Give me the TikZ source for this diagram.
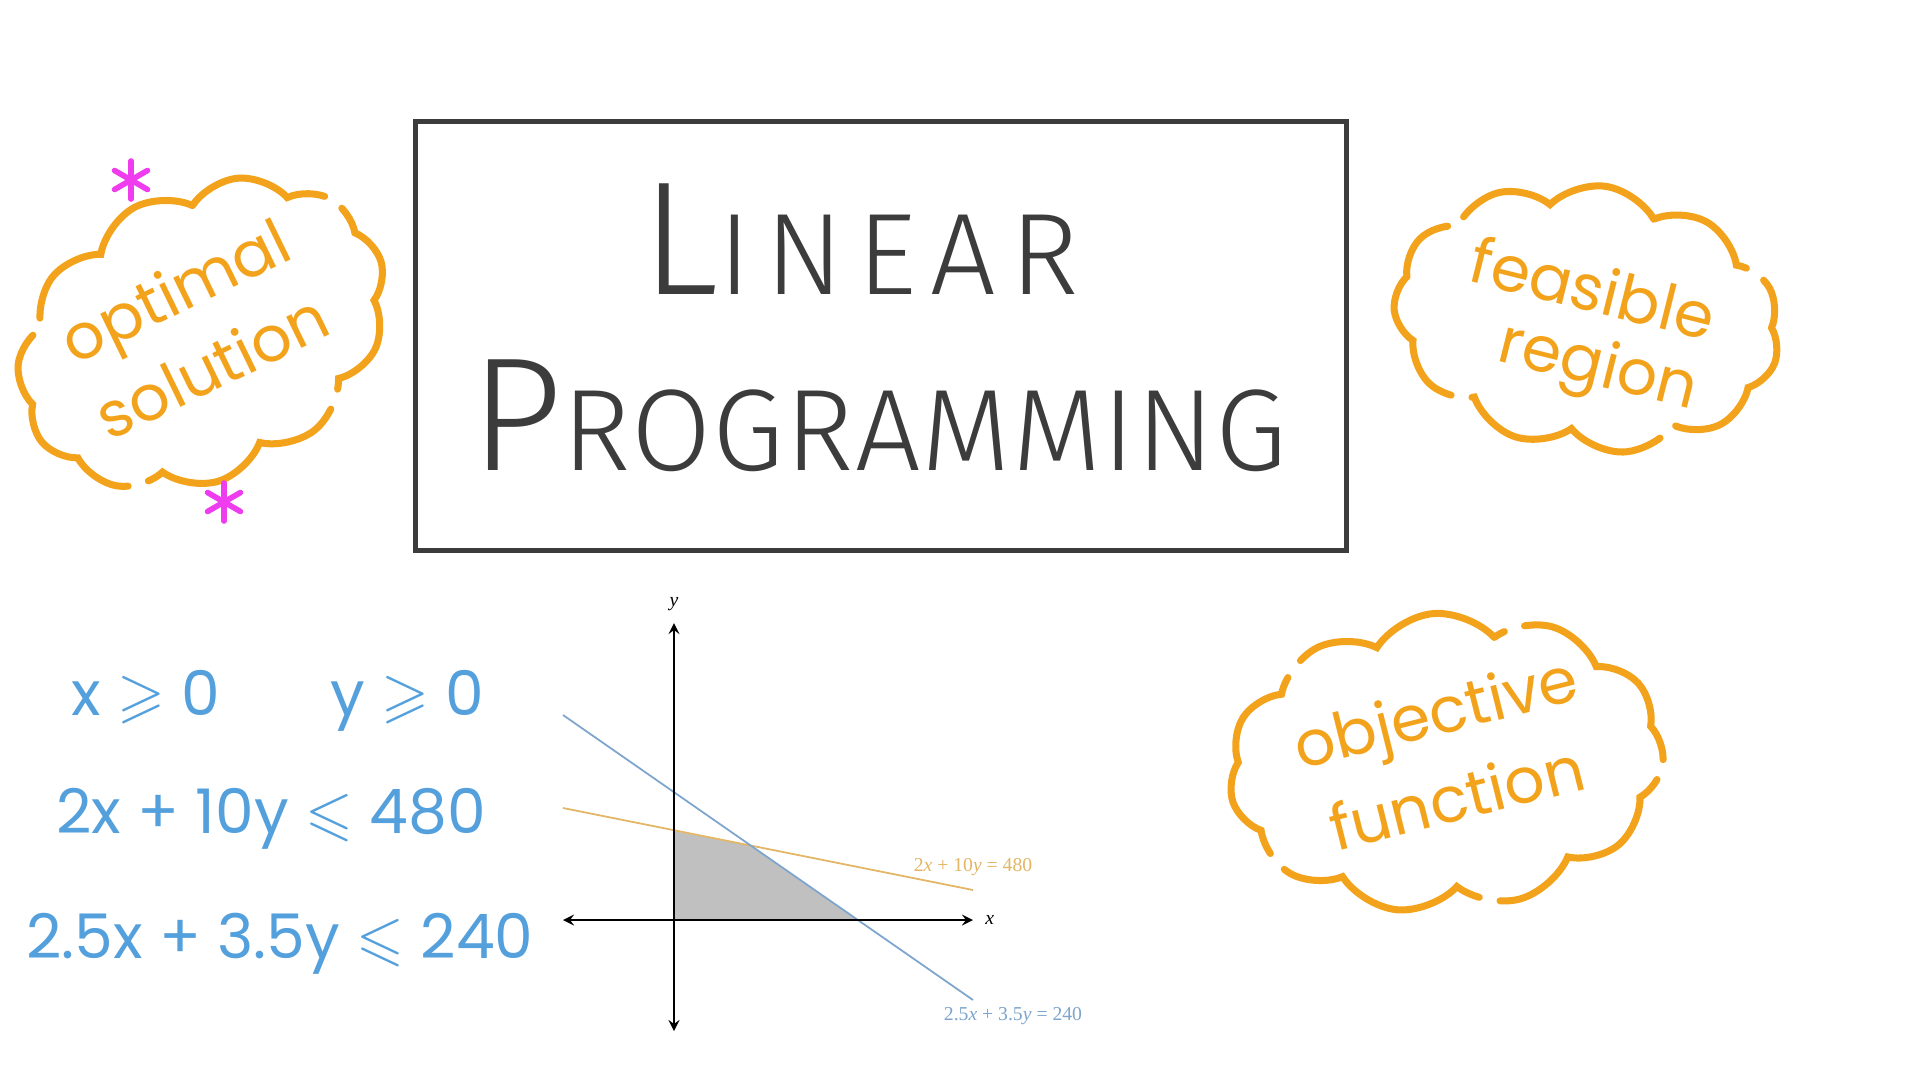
\documentclass[tikz,border=0pt]{standalone}
\usepackage{amssymb}
\usepackage{fontspec}
\usepackage{tikz}
\usetikzlibrary{shapes.symbols, arrows}
\setmainfont{Poppins}
\newfontfamily\titlefont{Fira Sans Light}[LetterSpace=12]
\newfontfamily\titlefontb{Fira Sans Light}[LetterSpace=1]
\newfontfamily\labelfont{Liberation Serif}
\definecolor{cloudorange}{RGB}{243,163,27}
\definecolor{penblue}{RGB}{84,160,220}
\definecolor{starpink}{RGB}{238,60,238}
\definecolor{boxgray}{RGB}{60,60,60}
\definecolor{lineblue}{RGB}{125,165,205}
\definecolor{linetan}{RGB}{226,182,100}
\definecolor{regiongray}{RGB}{192,192,192}
\tikzstyle{bubble} = [cloud, cloud puffs=11, cloud puff arc=105, cloud ignores aspect, draw=cloudorange, line width=2pt, line cap=round, dash pattern=on 62pt off 6pt]
\tikzstyle{bubbletext} = [text=cloudorange, align=center]
\tikzstyle{ineq} = [text=penblue, font=\fontsize{17.5}{19}\selectfont]
\tikzstyle{title} = [text=boxgray]
\tikzstyle{axis} = [line width=0.4pt, <->, >=stealth]
\tikzstyle{asterisk} = [starpink, line width=1.6pt, line cap=round]
\tikzstyle{eqlabel} = [font=\labelfont\fontsize{5.6}{6}\selectfont]

\begin{document}
\begin{tikzpicture}[x=0.1mm, y=-0.1mm]
  \useasboundingbox[fill=white] (0,0) rectangle (1920,1080);

  % title
  \node (titlebox) [draw=boxgray, line width=1.4pt, minimum width=93.1mm, minimum height=42.9mm] at (881,336) {};
  \node (linear) [title, font=\titlefont] at (860,239) {{\fontsize{46}{48}\selectfont L}{\fontsize{33}{36}\selectfont INEAR}};
  \node (programming) [title, font=\titlefontb] at (879,416) {{\fontsize{46}{48}\selectfont P}{\fontsize{33}{36}\selectfont ROGRAMMING}};

  % clouds
  \node (optcloud) [bubble, rotate=28, minimum width=38.8mm, minimum height=28.7mm] at (202,334) {};
  \node (opttext) [bubbletext, rotate=26, font=\fontsize{18}{24}\selectfont] at (193,328) {optimal\\solution};

  \node (feascloud) [bubble, rotate=-8, minimum width=38.8mm, minimum height=26.6mm] at (1587,318) {};
  \node (feastext) [bubbletext, rotate=-14, font=\fontsize{18}{20}\selectfont] at (1583,330) {feasible\\\hspace*{4.8mm}region};

  \node (objcloud) [bubble, rotate=5, minimum width=43.6mm, minimum height=29.8mm] at (1446,762) {};
  \node (objtext) [bubbletext, rotate=14, font=\fontsize{18}{25}\selectfont] at (1446,754) {objective\\function};

  % stars
  \coordinate (starA) at (131,180);
  \coordinate (starB) at (224,502);
  \foreach \s in {starA, starB}
    \foreach \a in {90, 30, -30}
      \draw [asterisk] (\s) ++(\a:19) -- ++(\a+180:38);

  % constraints
  \node (nonneg) [ineq] at (278,701) {x $\geqslant$ 0\hspace{11mm}y $\geqslant$ 0};
  \node (con1) [ineq] at (271,819) {2x + 10y $\leqslant$ 480};
  \node (con2) [ineq] at (280,944) {2.5x + 3.5y $\leqslant$ 240};

  % graph
  \coordinate (O) at (674,920);
  \coordinate (xL) at (563,920);
  \coordinate (xR) at (973,920);
  \coordinate (yT) at (674,623);
  \coordinate (yB) at (674,1031);
  \coordinate (xint) at (857,920);
  \coordinate (corner) at (751,846);
  \coordinate (yint) at (674,831);
  \fill [regiongray] (O) -- (xint) -- (corner) -- (yint) -- cycle;
  \draw [linetan, line width=0.5pt] (563,808) coordinate (tanA) -- (973,890) coordinate (tanB);
  \draw [lineblue, line width=0.5pt] (563,715) coordinate (blueA) -- (973,1000) coordinate (blueB);
  \draw [axis] (xL) -- (xR);
  \draw [axis] (yB) -- (yT);
  \node (xlab) [eqlabel, right] at (xR) {\textit{x}};
  \node (ylab) [eqlabel, above] at (yT) {\textit{y}};
  \node (tanlab) [eqlabel, text=linetan] at (973,867) {2\textit{x} + 10\textit{y} = 480};
  \node (bluelab) [eqlabel, text=lineblue] at (1013,1016) {2.5\textit{x} + 3.5\textit{y} = 240};
\end{tikzpicture}
\end{document}
